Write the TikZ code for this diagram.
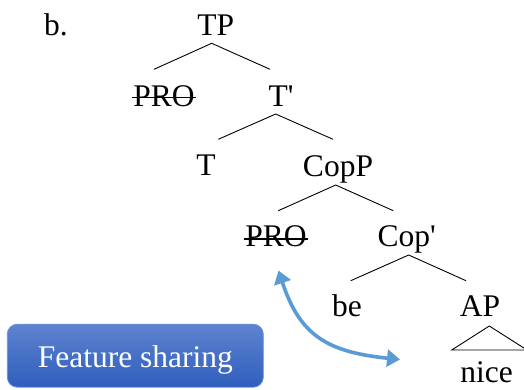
\documentclass[tikz,border=0pt]{standalone}
\usepackage{fontspec}
\setmainfont{Liberation Serif}[Ligatures=TeXOff]
\usetikzlibrary{arrows.meta}
\definecolor{arrowblue}{RGB}{91,155,213}
\definecolor{boxtop}{RGB}{95,131,208}
\definecolor{boxbot}{RGB}{46,94,188}
\definecolor{boxline}{RGB}{110,145,215}
\begin{document}
\begin{tikzpicture}[x=1pt,y=-1pt,
  lab/.style={anchor=base,inner sep=0pt,font=\fontsize{31.5}{36}\selectfont},
  branch/.style={line width=0.9pt},
  strike/.style={line width=1.3pt},
  share/.style={draw=arrowblue,line width=3.6pt,
    {Triangle[length=13pt,width=17pt]}-{Triangle[length=13pt,width=17pt]}},
  featbox/.style={rounded corners=10pt,top color=boxtop,bottom color=boxbot,
    draw=boxline,line width=0.8pt,minimum width=256pt,minimum height=63pt,inner sep=0pt}]
\useasboundingbox (0,0) rectangle (524,389);
\clip (0,0) rectangle (524,389);
% labels
\node[lab] (b) at (56,35) {b.};
\node[lab] (tp) at (215.7,35) {TP};
\node[lab] (pro1) at (164,106) {PRO};
\node[lab] (tbar) at (281,106) {T'};
\node[lab] (t) at (206,175.7) {T};
\node[lab] (copp) at (338,176) {CopP};
\node[lab] (pro2) at (276,246.7) {PRO};
\node[lab] (copbar) at (406.7,246.7) {Cop'};
\node[lab] (be) at (347,316) {be};
\node[lab] (ap) at (480,316) {AP};
\node[lab] (nice) at (486.7,382.5) {nice};
% strike-throughs
\draw[strike] ([yshift=8.3pt,xshift=-1pt]pro1.base west) -- ([yshift=8.3pt,xshift=1pt]pro1.base east);
\draw[strike] ([yshift=7.8pt,xshift=-1pt]pro2.base west) -- ([yshift=7.8pt,xshift=1pt]pro2.base east);
% branch coordinates
\coordinate (tpA) at (211.7,43.3);
\coordinate (tpL) at (154,69.3);
\coordinate (tpR) at (270,69.3);
\coordinate (tbA) at (275.7,114);
\coordinate (tbL) at (218.3,139.3);
\coordinate (tbR) at (333,139.3);
\coordinate (cpA) at (335.7,185);
\coordinate (cpL) at (278.3,210.7);
\coordinate (cpR) at (393.3,210.7);
\coordinate (cbA) at (408.7,255);
\coordinate (cbL) at (350.7,280.7);
\coordinate (cbR) at (466,280.7);
\coordinate (apA) at (489.3,326);
\coordinate (apL) at (451.7,350);
\coordinate (apR) at (527,350);
\draw[branch] (tpL) -- (tpA) -- (tpR);
\draw[branch] (tbL) -- (tbA) -- (tbR);
\draw[branch] (cpL) -- (cpA) -- (cpR);
\draw[branch] (cbL) -- (cbA) -- (cbR);
\draw[branch] (apL) -- (apA) -- (apR) -- cycle;
% feature sharing box
\node[featbox] (fbox) at (135.3,355.7) {};
\node[lab,text=white] (ftext) at (135.3,367.3) {Feature sharing};
% arrow
\coordinate (arrA) at (278.5,270.5);
\coordinate (arrB) at (400,359.5);
\draw[share] (arrA) .. controls (300,336) and (328,352) .. (arrB);
\end{tikzpicture}
\end{document}
